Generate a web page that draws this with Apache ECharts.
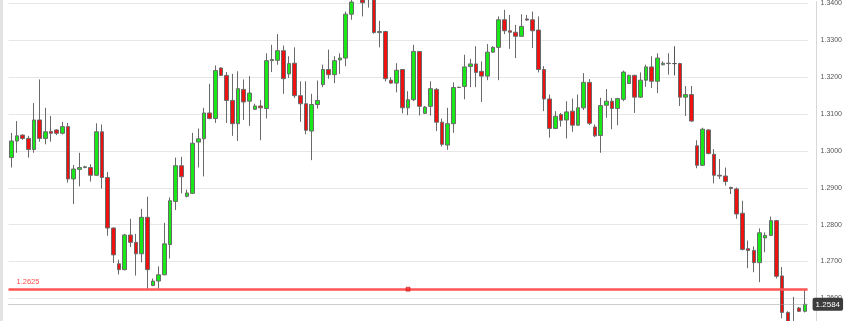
<!DOCTYPE html>
<html>
<head>
<meta charset="utf-8">
<script src="https://cdn.jsdelivr.net/npm/echarts@6/dist/echarts.min.js"></script>
<style>
html,body{margin:0;padding:0;background:#fff;}
#chart{width:845px;height:321px;}
</style>
</head>
<body>
<div id="chart"></div>
<script>
// ---- data (price values) ----
const opens = [1.2982,1.3027,1.3043,1.3034,1.3004,1.3084,1.3034,1.3053,1.3057,1.3048,
1.3066,1.2924,1.2950,1.2955,1.2955,1.2934,1.3052,1.2928,1.2791,1.2694,
1.2678,1.2772,1.2752,1.2721,1.2820,1.2635,1.2647,1.2664,1.2746,1.2863,
1.2960,1.2877,1.2885,1.3024,1.3033,1.3103,1.3088,1.3225,1.3205,1.3137,
1.3074,1.3167,1.3135,1.3113,1.3122,1.3115,1.3245,1.3246,1.3272,1.3209,
1.3238,1.3150,1.3128,1.3054,1.3126,1.3180,1.3221,1.3207,1.3247,1.3252,
1.3371,1.3420,1.3410,1.3420,1.3410,1.3321,1.3324,1.3192,1.3184,1.3221,
1.3117,1.3139,1.3270,1.3102,1.3121,1.3167,1.3078,1.3016,1.3074,1.3172,
1.3175,1.3229,1.3236,1.3216,1.3203,1.3268,1.3281,1.3356,1.3326,1.3322,
1.3311,1.3358,1.3356,1.3328,1.3221,1.3141,1.3061,1.3099,1.3084,1.3108,
1.3070,1.3117,1.3186,1.3065,1.3042,1.3124,1.3135,1.3115,1.3140,1.3183,
1.3205,1.3146,1.3192,1.3228,1.3189,1.3234,1.3237,1.3237,1.3237,1.3146,
1.3153,1.3014,1.2961,1.3057,1.2991,1.2934,1.2932,1.2901,1.2897,1.2831,
1.2735,1.2730,1.2697,1.2764,1.2771,1.2811,1.2661,1.2562,1.2510,1.2574,
1.2565];
const closes = [1.3027,1.3041,1.3034,1.3004,1.3084,1.3034,1.3052,1.3048,1.3048,1.3066,
1.2924,1.2951,1.2955,1.2957,1.2934,1.3052,1.2928,1.2791,1.2718,1.2678,
1.2772,1.2752,1.2721,1.2820,1.2678,1.2647,1.2664,1.2748,1.2865,1.2960,
1.2930,1.2886,1.3021,1.3033,1.3103,1.3088,1.3218,1.3205,1.3137,1.3074,
1.3169,1.3133,1.3157,1.3122,1.3117,1.3245,1.3248,1.3272,1.3196,1.3237,
1.3150,1.3128,1.3056,1.3126,1.3137,1.3221,1.3207,1.3245,1.3252,1.3371,
1.3404,1.3435,1.3402,1.3415,1.3321,1.3324,1.3196,1.3184,1.3219,1.3117,
1.3139,1.3270,1.3121,1.3119,1.3169,1.3078,1.3018,1.3074,1.3172,1.3173,
1.3228,1.3236,1.3213,1.3203,1.3268,1.3281,1.3356,1.3326,1.3322,1.3311,
1.3338,1.3355,1.3326,1.3221,1.3141,1.3061,1.3094,1.3083,1.3106,1.3070,
1.3117,1.3186,1.3075,1.3041,1.3123,1.3135,1.3115,1.3142,1.3214,1.3205,
1.3146,1.3192,1.3228,1.3189,1.3252,1.3238,1.3238,1.3237,1.3146,1.3153,
1.3081,1.2961,1.3059,1.2993,1.2934,1.2932,1.2917,1.2898,1.2829,1.2733,
1.2730,1.2697,1.2778,1.2771,1.2811,1.2660,1.2562,1.2519,1.2525,1.2565,
1.2584];
const lows = [1.2955,1.2995,1.3030,1.2982,1.2995,1.3025,1.3018,1.3025,1.3043,1.3045,
1.2914,1.2856,1.2904,1.2953,1.2917,1.2933,1.2898,1.2770,1.2696,1.2665,
1.2676,1.2739,1.2662,1.2698,1.2624,1.2633,1.2624,1.2663,1.2708,1.2840,
1.2885,1.2874,1.2883,1.2955,1.2931,1.3086,1.3076,1.3203,1.3076,1.3041,
1.3027,1.3084,1.3068,1.3111,1.3029,1.3088,1.3214,1.3234,1.3155,1.3198,
1.3144,1.3079,1.3045,1.2975,1.3115,1.3173,1.3196,1.3184,1.3209,1.3230,
1.3356,1.3408,1.3365,1.3389,1.3318,1.3281,1.3189,1.3182,1.3159,1.3102,
1.3097,1.3135,1.3096,1.3101,1.3096,1.3054,1.3012,1.3003,1.3049,1.3171,
1.3140,1.3173,1.3173,1.3133,1.3192,1.3267,1.3192,1.3317,1.3277,1.3252,
1.3310,1.3353,1.3279,1.3213,1.3108,1.3036,1.3059,1.3066,1.3034,1.3052,
1.3068,1.3111,1.3070,1.3038,1.2995,1.3090,1.3059,1.3070,1.3135,1.3182,
1.3103,1.3144,1.3174,1.3171,1.3157,1.3232,1.3207,1.3205,1.3122,1.3095,
1.3079,1.2953,1.2960,1.2991,1.2912,1.2924,1.2906,1.2883,1.2816,1.2730,
1.2682,1.2671,1.2644,1.2725,1.2769,1.2654,1.2546,1.2505,1.2495,1.2563,
1.2562];
const highs = [1.3049,1.3081,1.3045,1.3041,1.3130,1.3194,1.3117,1.3095,1.3059,1.3079,
1.3076,1.2962,1.2995,1.2960,1.2964,1.3075,1.3072,1.2943,1.2792,1.2705,
1.2775,1.2816,1.2775,1.2843,1.2876,1.2654,1.2687,1.2805,1.2874,1.2982,
1.2984,1.2895,1.3049,1.3061,1.3117,1.3182,1.3232,1.3227,1.3214,1.3209,
1.3216,1.3194,1.3203,1.3128,1.3138,1.3265,1.3288,1.3317,1.3286,1.3257,
1.3281,1.3189,1.3189,1.3155,1.3191,1.3234,1.3275,1.3257,1.3265,1.3378,
1.3413,1.3455,1.3430,1.3440,1.3425,1.3353,1.3326,1.3200,1.3238,1.3222,
1.3162,1.3288,1.3271,1.3122,1.3189,1.3171,1.3088,1.3117,1.3186,1.3174,
1.3261,1.3250,1.3284,1.3243,1.3290,1.3284,1.3365,1.3383,1.3369,1.3342,
1.3371,1.3369,1.3378,1.3365,1.3230,1.3153,1.3108,1.3103,1.3135,1.3142,
1.3153,1.3211,1.3195,1.3072,1.3144,1.3168,1.3144,1.3144,1.3218,1.3207,
1.3207,1.3213,1.3234,1.3257,1.3265,1.3243,1.3265,1.3284,1.3239,1.3176,
1.3176,1.3029,1.3063,1.3059,1.3005,1.2978,1.2955,1.2903,1.2901,1.2865,
1.2757,1.2741,1.2790,1.2779,1.2822,1.2813,1.2685,1.2565,1.2604,1.2577,
1.2625];
const categories = opens.map((_, i) => 'D' + (i + 1));

const levelLine = 1.2625;       // red horizontal level
const lastPrice = 1.2584;       // current price tag
const yMin = 1.25387, yMax = 1.34051;   // visible price window
const ySplit = 9;                       // gives 0.01 steps

// ---- chart ----
const candleData = opens.map((o, i) => [o, closes[i], lows[i], highs[i]]);
const chart = echarts.init(document.getElementById('chart'), null, {renderer: 'canvas'});
const FONT = '"Liberation Sans", Arial, sans-serif';

chart.setOption({
  animation: false,
  backgroundColor: '#ffffff',
  grid: {left: 8.5, right: 35.9, top: 0, bottom: 0, containLabel: false},
  graphic: [
    {type: 'rect', left: 0, top: 0, shape: {x: 0, y: 0, width: 3, height: 321}, style: {fill: '#e2e2e2'}, z: 10}
  ],
  xAxis: {
    type: 'category', data: categories, boundaryGap: true,
    axisLine: {show: false}, axisTick: {show: false}, axisLabel: {show: false}, splitLine: {show: false}
  },
  yAxis: {
    type: 'value', position: 'right', min: yMin, max: yMax, splitNumber: ySplit, offset: 9,
    axisLine: {show: true, onZero: false, lineStyle: {color: '#d6d6d6', width: 1}},
    axisTick: {show: false},
    axisLabel: {show: true, margin: 4, color: '#555', fontSize: 7, fontFamily: FONT,
      showMinLabel: false, showMaxLabel: false,
      formatter: v => v.toFixed(4)},
    splitLine: {show: true, showMinLine: false, showMaxLine: false, lineStyle: {color: '#e6e6e6', width: 1}}
  },
  series: [{
    type: 'candlestick',
    data: candleData,
    barWidth: 4,
    clip: true,
    itemStyle: {
      color: '#18e818', color0: '#ee1111',
      borderColor: '#6a6a6a', borderColor0: '#6a6a6a', borderColorDoji: '#555',
      borderWidth: 1
    }
  }, {
    type: 'scatter',
    silent: true,
    data: [[70, levelLine]],
    symbol: 'rect', symbolSize: [4, 4],
    itemStyle: {color: '#ff3030', borderColor: '#b00000', borderWidth: 0.6},
    z: 5,
    markLine: {
      silent: true, symbol: ['none', 'none'], animation: false, z: 4, precision: 4,
      data: [
        {yAxis: levelLine,
          lineStyle: {color: '#ff5555', width: 2.5, type: 'solid', opacity: 1},
          label: {show: true, position: 'insideStartTop', distance: [8, 3], formatter: levelLine.toFixed(4),
            color: '#ff4a4a', fontSize: 7.5, fontFamily: FONT}},
        {yAxis: lastPrice,
          lineStyle: {color: '#9a9a9a', width: 1, type: [1, 1]},
          label: {show: true, position: 'end', distance: 5, formatter: lastPrice.toFixed(4),
            color: '#ffffff', fontSize: 8, fontFamily: FONT, backgroundColor: '#3c3c3c',
            padding: [3, 3, 2, 3], borderRadius: 2}}
      ]
    }
  }]
});
</script>
</body>
</html>
